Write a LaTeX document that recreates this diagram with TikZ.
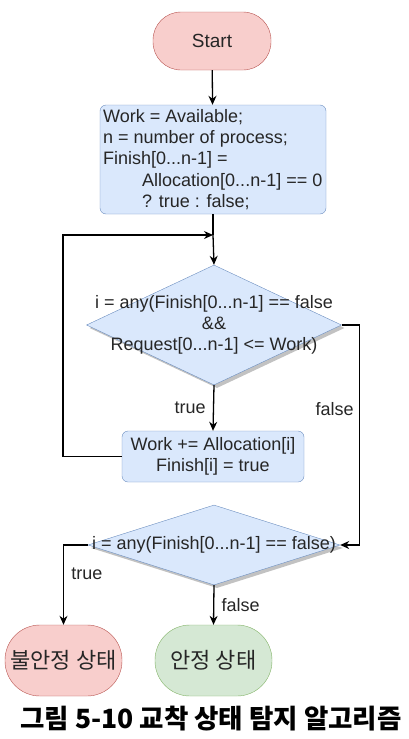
\documentclass[tikz,border=0pt]{standalone}
\usepackage{fontspec}
\setmainfont{Liberation Sans}
\newfontfamily\krfont{Noto Sans CJK KR}
\usepackage{tikz}
\usetikzlibrary{arrows.meta,positioning,shapes.geometric,shadows}

\definecolor{bluefill}{HTML}{DAE8FC}
\definecolor{bluedraw}{HTML}{6C8EBF}
\definecolor{redfill}{HTML}{F8CECC}
\definecolor{reddraw}{HTML}{B85450}
\definecolor{greenfill}{HTML}{D5E8D4}
\definecolor{greendraw}{HTML}{82B366}

\begin{document}
\begin{tikzpicture}[x=1pt,y=-1pt,
    every node/.style={font=\fontsize{18}{21}\selectfont, text=black!85},
    term/.style={rectangle, rounded corners=28pt, minimum width=118pt, minimum height=58pt, inner sep=0pt},
    proc/.style={rectangle, rounded corners=6pt, draw=bluedraw, fill=bluefill, inner sep=0pt},
    dec/.style={diamond, draw=bluedraw, fill=bluefill, inner sep=0pt,
      drop shadow={shadow xshift=3pt, shadow yshift=-3pt, fill=black!40, opacity=0.6}},
    flow/.style={line width=1.3pt, -{Stealth[length=9pt,width=8pt]}},
    lbl/.style={font=\fontsize{18}{21}\selectfont}]
  \useasboundingbox (0,0) rectangle (408,739);

  % start and init
  \node[term, draw=reddraw, fill=redfill, font=\fontsize{19}{22}\selectfont] (start) at (212,41) {Start};
  \node[proc, minimum width=226pt, minimum height=109pt] (init) at (213,159.5) {};
  \node[align=left, anchor=north west, inner sep=0pt, font=\fontsize{18}{21.3}\selectfont] (inittext) at (103,109)
    {Work = Available;\\
     n = number of process;\\
     Finish[0...n-1] =\\
     \hspace*{39pt}Allocation[0...n-1] == 0\\
     \hspace*{39pt}? true : false;};

  % loop check
  \node[dec, minimum width=255pt, minimum height=120pt] (check) at (214,325) {};
  \node[align=center] (checktext) at (check.center)
    {i = any(Finish[0...n-1] == false\\ \&\&\\ Request[0...n-1] <= Work)};
  \node[proc, minimum width=182pt, minimum height=51pt, align=center] (update) at (213,456.5)
    {Work += Allocation[i]\\ Finish[i] = true};

  % final check
  \node[dec, minimum width=252pt, minimum height=80pt] (final) at (214,545) {};
  \node (finaltext) at (final.center) {i = any(Finish[0...n-1] == false)};
  \node[term, minimum width=117pt, minimum height=71pt, rounded corners=35pt,
    draw=reddraw, fill=redfill, font=\krfont\fontsize{22}{26}\selectfont] (unsafe) at (63.5,660.5) {불안정 상태};
  \node[term, minimum width=117pt, minimum height=71pt, rounded corners=35pt,
    draw=greendraw, fill=greenfill, font=\krfont\fontsize{22}{26}\selectfont] (safe) at (213.5,660.5) {안정 상태};

  \coordinate (join) at (213,235);

  \draw[flow] (start) -- (init);
  \draw[line width=1.3pt] (init.south) -- (join);
  \draw[flow] (join) -- (check.north);
  \draw[flow] (check.south) -- node[lbl, left=4pt] (t1) {true} (update.north);
  \draw[flow] (update.west) -- (63,456.5) |- (join);
  \draw[flow] (check.east) -- ++(18,0) |- node[lbl, pos=0.19, left=2pt] (f1) {false} (final.east);
  \draw[flow] (final.west) -| node[lbl, pos=0.68, right=4pt] (t2) {true} (unsafe.north);
  \draw[flow] (final.south) -- node[lbl, right=4pt] (f2) {false} (safe.north);

  \node[font=\krfont\bfseries\fontsize{26.5}{30}\selectfont, text=black] (caption) at (211,719)
    {그림 5-10 교착 상태 탐지 알고리즘};
\end{tikzpicture}
\end{document}
